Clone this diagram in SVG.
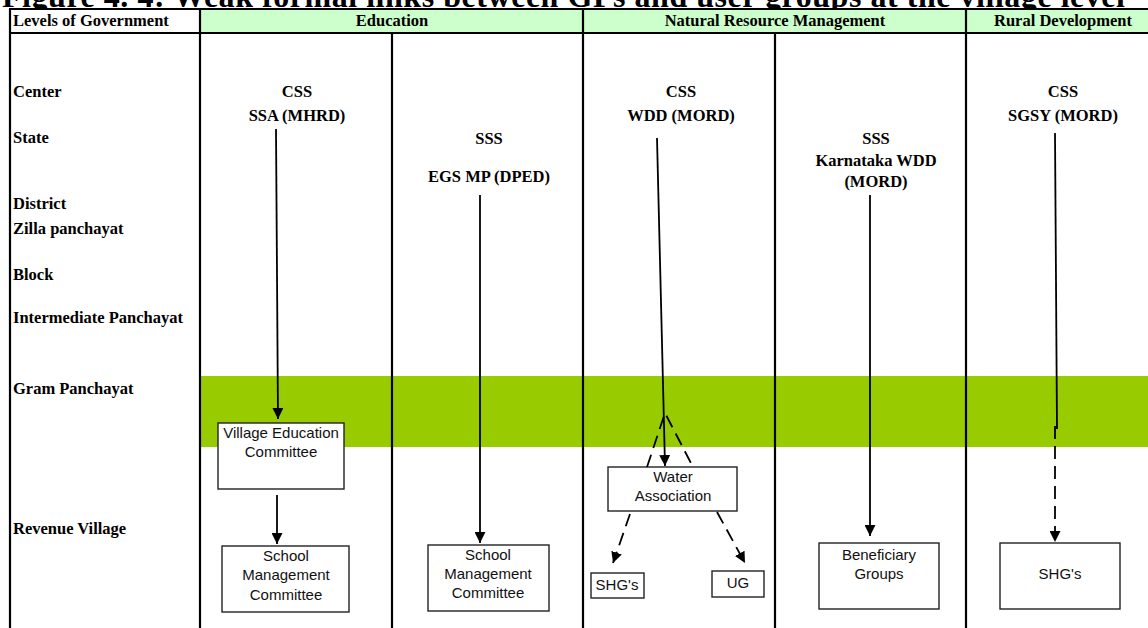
<svg xmlns="http://www.w3.org/2000/svg" width="1148" height="628" viewBox="0 0 1148 628">
<style>
.serif{font-family:"Liberation Serif","Times New Roman",serif;font-weight:bold;font-size:16.5px;fill:#000}
.mid{text-anchor:middle}
.sans{font-family:"Liberation Sans",Arial,sans-serif;font-size:15px;fill:#111;text-anchor:middle}
.box{fill:#fff;stroke:#222;stroke-width:1.4}
.grid{stroke:#000;stroke-width:2.2;fill:none}
.hdr{fill:#ccffcc;stroke:#000;stroke-width:2}
.conn{stroke:#000;stroke-width:1.8;fill:none}
.dash{stroke-dasharray:13 7}
</style>
<defs>
<marker id="ah" viewBox="0 0 10 10" refX="10" refY="5" markerWidth="11" markerHeight="11" markerUnits="userSpaceOnUse" orient="auto">
<path d="M0,0 L10,5 L0,10 z" fill="#000"/>
</marker>
</defs>
<rect width="1148" height="628" fill="#fff"/>
<text x="2" y="7" font-family="Liberation Serif,'Times New Roman',serif" font-weight="bold" font-size="32" textLength="1123" lengthAdjust="spacing">Figure 4. 4: Weak formal links between GPs and user groups at the village level</text>

<g id="table">
<rect x="200" y="376" width="948" height="71" fill="#99cc00"/>
<rect x="10" y="9" width="190" height="24" fill="#fff" stroke="#000" stroke-width="2"/>
<rect x="200" y="9" width="383" height="24" class="hdr"/>
<rect x="583" y="9" width="383" height="24" class="hdr"/>
<rect x="966" y="9" width="200" height="24" class="hdr"/>
<line x1="10" y1="9" x2="10" y2="628" class="grid"/>
<line x1="200" y1="9" x2="200" y2="628" class="grid"/>
<line x1="392" y1="33" x2="392" y2="628" class="grid"/>
<line x1="583" y1="9" x2="583" y2="628" class="grid"/>
<line x1="775" y1="33" x2="775" y2="628" class="grid"/>
<line x1="966" y1="9" x2="966" y2="628" class="grid"/>
<text x="13" y="26" class="serif">Levels of Government</text>
<text x="392" y="26" class="serif mid">Education</text>
<text x="775" y="26" class="serif mid">Natural Resource Management</text>
<text x="1063" y="26" class="serif mid">Rural Development</text>
</g>

<g id="levels">
<text x="13" y="97" class="serif">Center</text>
<text x="13" y="143" class="serif">State</text>
<text x="13" y="209" class="serif">District</text>
<text x="13" y="234" class="serif">Zilla panchayat</text>
<text x="13" y="280" class="serif">Block</text>
<text x="13" y="323" class="serif">Intermediate Panchayat</text>
<text x="13" y="394" class="serif">Gram Panchayat</text>
<text x="13" y="534" class="serif">Revenue Village</text>
</g>

<g id="ssa">
<text x="297" y="97" class="serif mid">CSS</text>
<text x="297" y="121" class="serif mid">SSA (MHRD)</text>
</g>
<g id="egs">
<text x="489" y="144" class="serif mid">SSS</text>
<text x="489" y="182" class="serif mid">EGS MP (DPED)</text>
</g>
<g id="wdd">
<text x="681" y="97" class="serif mid">CSS</text>
<text x="681" y="121" class="serif mid">WDD (MORD)</text>
</g>
<g id="kwdd">
<text x="876" y="144" class="serif mid">SSS</text>
<text x="876" y="166" class="serif mid">Karnataka WDD</text>
<text x="876" y="187" class="serif mid">(MORD)</text>
</g>
<g id="sgsy">
<text x="1063" y="97" class="serif mid">CSS</text>
<text x="1063" y="121" class="serif mid">SGSY (MORD)</text>
</g>

<g id="vec">
<rect x="218" y="423" width="126" height="66" class="box"/>
<text x="281" y="438" class="sans">Village Education</text>
<text x="281" y="457" class="sans">Committee</text>
</g>
<g id="smc1">
<rect x="222" y="546" width="127" height="66" class="box"/>
<text x="286" y="561" class="sans">School</text>
<text x="286" y="580" class="sans">Management</text>
<text x="286" y="600" class="sans">Committee</text>
</g>
<g id="smc2">
<rect x="428" y="545" width="121" height="66" class="box"/>
<text x="488" y="560" class="sans">School</text>
<text x="488" y="579" class="sans">Management</text>
<text x="488" y="598" class="sans">Committee</text>
</g>
<g id="wa">
<rect x="608" y="467" width="129" height="44" class="box"/>
<text x="673" y="482" class="sans">Water</text>
<text x="673" y="501" class="sans">Association</text>
</g>
<g id="shg1">
<rect x="591" y="573" width="53" height="25" class="box"/>
<text x="617" y="590" class="sans">SHG's</text>
</g>
<g id="ug">
<rect x="712" y="571" width="52" height="26" class="box"/>
<text x="738" y="588" class="sans">UG</text>
</g>
<g id="bg">
<rect x="819" y="543" width="120" height="66" class="box"/>
<text x="879" y="560" class="sans">Beneficiary</text>
<text x="879" y="579" class="sans">Groups</text>
</g>
<g id="shg2">
<rect x="1000" y="543" width="120" height="66" class="box"/>
<text x="1060" y="579" class="sans">SHG's</text>
</g>

<g id="connectors">
<line x1="276" y1="129" x2="278" y2="419" class="conn" marker-end="url(#ah)"/>
<line x1="277" y1="495" x2="277" y2="544" class="conn" marker-end="url(#ah)"/>
<line x1="480" y1="195" x2="480" y2="543" class="conn" marker-end="url(#ah)"/>
<line x1="657" y1="138" x2="665" y2="466" class="conn" marker-end="url(#ah)"/>
<polyline points="647,467 665,413 693,467" class="conn dash"/>
<line x1="630" y1="514" x2="613" y2="563" class="conn dash" marker-end="url(#ah)"/>
<line x1="717" y1="512" x2="745" y2="563" class="conn dash" marker-end="url(#ah)"/>
<line x1="870" y1="195" x2="870" y2="536" class="conn" marker-end="url(#ah)"/>
<line x1="1055" y1="133" x2="1057" y2="429" class="conn"/>
<line x1="1055" y1="426" x2="1055" y2="542" class="conn dash" marker-end="url(#ah)"/>
</g>
</svg>
